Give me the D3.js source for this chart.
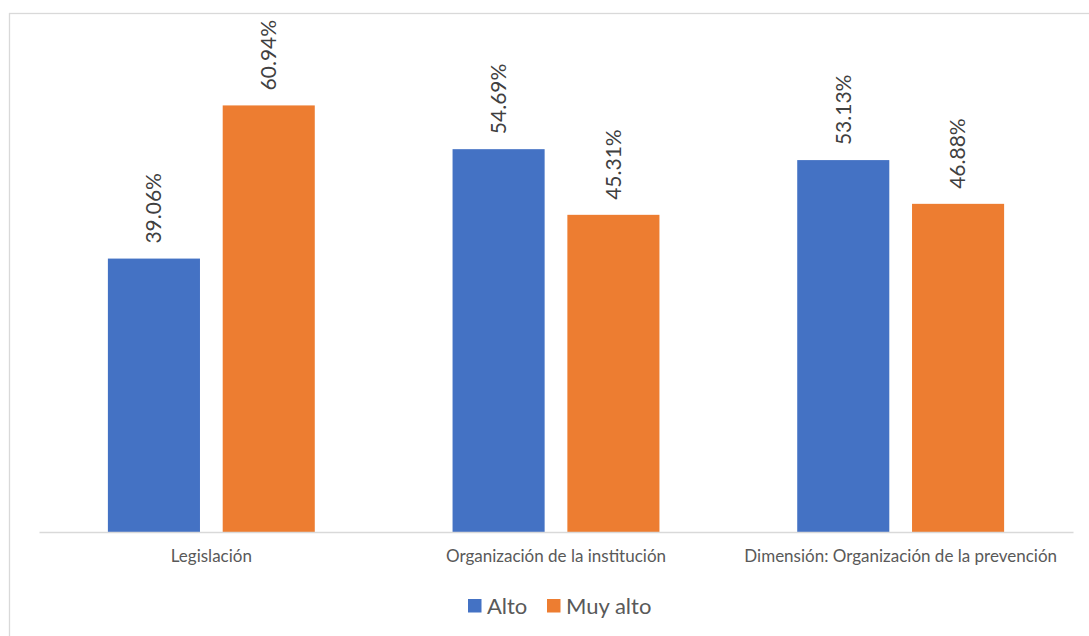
<!DOCTYPE html>
<html>
<head>
<meta charset="utf-8">
<script src="https://cdn.jsdelivr.net/npm/d3@7"></script>
<style>
  html, body { margin: 0; padding: 0; background: #fff; }
  svg { display: block; font-family: Lato, "Open Sans", sans-serif; }
</style>
</head>
<body>
<svg id="chart" width="1089" height="636"></svg>
<script>
// Categories, series and values (shares, 0–1)
const categories = ["Legislación", "Organización de la institución", "Dimensión: Organización de la prevención"];
const seriesNames = ["Alto", "Muy alto"];
const alto = [0.3906, 0.5469, 0.5313];
const muyAlto = [0.6094, 0.4531, 0.4688];
const seriesColors = ["#4472C4", "#ED7D31"];

const seriesValues = [alto, muyAlto];
const rows = categories.map((c, i) => ({
  category: c,
  values: seriesNames.map((s, j) => ({ series: s, value: seriesValues[j][i], color: seriesColors[j] }))
}));

const svg = d3.select("#chart");
const W = 1089, H = 636;
const plot = { left: 39, right: 1073, top: 42, bottom: 532 };

// Chart frame (extends past the right/bottom edges)
svg.append("rect")
  .attr("x", 9.5).attr("y", 13.5)
  .attr("width", W + 20).attr("height", H + 20)
  .attr("fill", "#fff").attr("stroke", "#D9D9D9").attr("stroke-width", 1.3);

const x0 = d3.scaleBand().domain(categories).range([plot.left, plot.right]).paddingInner(0).paddingOuter(0);
const x1 = d3.scaleBand().domain(seriesNames).range([0, x0.bandwidth()]).paddingInner(0.198).paddingOuter(0.6);
const y = d3.scaleLinear().domain([0, 0.7]).range([plot.bottom, plot.top]);
const fmt = d3.format(".2%");

const groups = svg.append("g").selectAll("g")
  .data(rows).join("g")
  .attr("transform", d => `translate(${x0(d.category)},0)`);

groups.selectAll("rect")
  .data(d => d.values).join("rect")
  .attr("x", d => x1(d.series))
  .attr("y", d => y(d.value))
  .attr("width", x1.bandwidth())
  .attr("height", d => y(0) - y(d.value))
  .attr("fill", d => d.color);

// Rotated value labels above each bar
groups.selectAll("text.val")
  .data(d => d.values).join("text")
  .attr("class", "val")
  .attr("transform", d => `translate(${x1(d.series) + x1.bandwidth() / 2},${y(d.value) - 15}) rotate(-90)`)
  .attr("dy", "0.35em")
  .attr("text-anchor", "start")
  .attr("font-size", 21)
  .attr("fill", "#404040")
  .text(d => fmt(d.value));

// Category axis
const xAxis = svg.append("g")
  .attr("transform", `translate(0,${plot.bottom})`)
  .call(d3.axisBottom(x0).tickSize(0).tickPadding(18));
xAxis.select(".domain").attr("stroke", "#D9D9D9").attr("stroke-width", 1.5);
xAxis.selectAll("text")
  .attr("font-family", "Lato, 'Open Sans', sans-serif")
  .attr("font-size", 17)
  .attr("fill", "#595959");

// Legend
const legend = svg.append("g").attr("transform", "translate(468,606)");
const legendItems = [
  { name: seriesNames[0], color: seriesColors[0], x: 0 },
  { name: seriesNames[1], color: seriesColors[1], x: 79 }
];
const li = legend.selectAll("g").data(legendItems).join("g")
  .attr("transform", d => `translate(${d.x},0)`);
li.append("rect")
  .attr("x", 0).attr("y", -7).attr("width", 13.5).attr("height", 13.5)
  .attr("fill", d => d.color);
li.append("text")
  .attr("x", 19).attr("dy", "0.35em")
  .attr("font-size", 22)
  .attr("fill", "#595959")
  .text(d => d.name);
</script>
</body>
</html>
